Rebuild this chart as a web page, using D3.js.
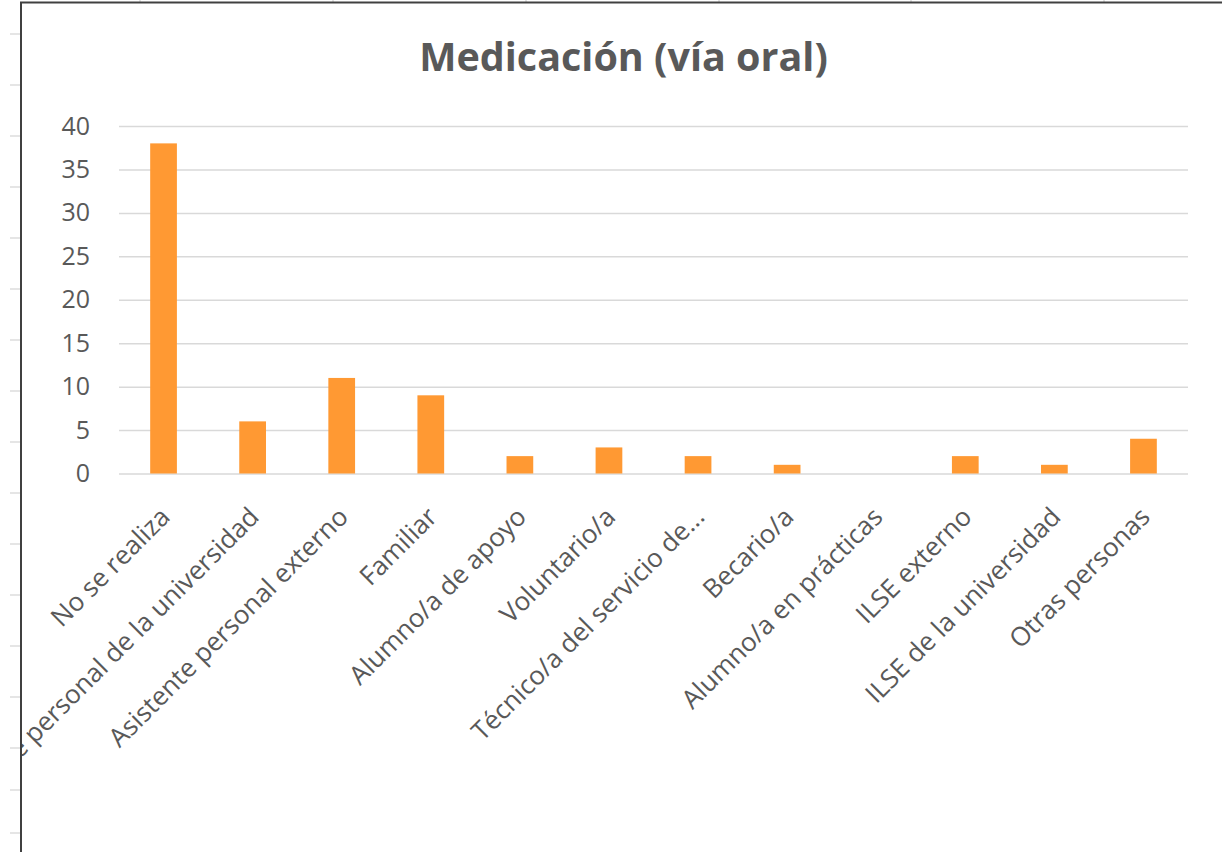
<!DOCTYPE html>
<html>
<head>
<meta charset="utf-8">
<script src="https://cdn.jsdelivr.net/npm/d3@7"></script>
<style>
  html, body { margin: 0; padding: 0; background: #ffffff; }
  svg { display: block; }
</style>
</head>
<body>
<div id="chart"></div>
<script>
// Données du graphique
const categories = ["No se realiza", "Asistente personal de la universidad", "Asistente personal externo",
    "Familiar", "Alumno/a de apoyo", "Voluntario/a", "Técnico/a del servicio de...", "Becario/a",
    "Alumno/a en prácticas", "ILSE externo", "ILSE de la universidad", "Otras personas"];
const valores = [38, 6, 11, 9, 2, 3, 2, 1, 0, 2, 1, 4];
const yTicks = [0, 5, 10, 15, 20, 25, 30, 35, 40];
const titulo = "Medicación (vía oral)";

// hauteurs des lignes / largeurs des colonnes de la feuille (décor)
const rowHeights = [34, 51, 51, 51, 51, 51, 51, 51, 51, 51, 51, 51, 51, 51, 51, 42, 43];
const colWidths = [140, 193, 193, 193, 192, 193, 193];

//---------------------------------------------------------------------------------------

const width = 1222;
const height = 852;
const frameX = 21;
const frameY = 2.5;
const font = "'Open Sans', sans-serif";
const textColor = "#595959";

const svg = d3.select("#chart")
    .append("svg")
    .attr("width", width)
    .attr("height", height);

// feuille Excel en arrière-plan : petits repères de lignes et colonnes
const rowY = d3.cumsum(rowHeights);
svg.append("g").selectAll("line")
    .data(rowY)
    .join("line")
    .attr("x1", 10).attr("x2", frameX)
    .attr("y1", d => d).attr("y2", d => d)
    .attr("stroke", "#d4d4d4")
    .attr("stroke-width", 1.2);

const colX = d3.cumsum(colWidths);
svg.append("g").selectAll("line")
    .data(colX)
    .join("line")
    .attr("x1", d => d).attr("x2", d => d)
    .attr("y1", 0).attr("y2", frameY)
    .attr("stroke", "#c8c8c8")
    .attr("stroke-width", 1);

// zone du graphique (clip)
svg.append("defs").append("clipPath")
    .attr("id", "clipChart")
    .append("rect")
    .attr("x", frameX + 1).attr("y", frameY + 1)
    .attr("width", width).attr("height", height);

const chart = svg.append("g").attr("clip-path", "url(#clipChart)");

chart.append("rect")
    .attr("x", frameX).attr("y", frameY)
    .attr("width", width).attr("height", height)
    .attr("fill", "#ffffff");

//---------------------------------------------------------------------------------------

// Échelles
const plotLeft = 119;
const plotRight = 1188;
const plotTop = 126;
const plotBottom = 473.5;

const scaleX = d3.scaleBand()
    .domain(categories)
    .range([plotLeft, plotRight])
    .paddingInner(0.7)
    .paddingOuter(0.35);

const scaleY = d3.scaleLinear()
    .domain([0, 40])
    .range([plotBottom, plotTop]);

// Axe Y + grille
const yAxis = g => g
    .attr("transform", `translate(${plotLeft}, 0)`)
    .call(d3.axisLeft(scaleY)
        .tickValues(yTicks)
        .tickSize(-(plotRight - plotLeft))
        .tickPadding(29))
    .call(g => g.select(".domain").remove())
    .call(g => g.selectAll(".tick line")
        .attr("stroke", "#d9d9d9")
        .attr("stroke-width", 1.5))
    .call(g => g.selectAll(".tick text")
        .attr("fill", textColor)
        .attr("font-family", font)
        .attr("font-size", "25px"));

chart.append("g").call(yAxis);

// Barres
chart.append("g").selectAll("rect")
    .data(valores)
    .join("rect")
    .attr("x", (d, i) => scaleX(categories[i]))
    .attr("y", d => scaleY(d))
    .attr("width", scaleX.bandwidth())
    .attr("height", d => scaleY(0) - scaleY(d))
    .attr("fill", "#ff9933");

// Axe X (étiquettes inclinées)
const xAxis = g => g
    .attr("transform", `translate(0, ${plotBottom})`)
    .call(d3.axisBottom(scaleX).tickSize(0).tickPadding(0))
    .call(g => g.select(".domain").remove())
    .call(g => g.selectAll(".tick text")
        .attr("fill", textColor)
        .attr("font-family", font)
        .attr("font-size", "26px")
        .attr("text-anchor", "end")
        .attr("dy", null)
        .attr("y", 0)
        .attr("transform", "translate(8, 45) rotate(-45)"));

chart.append("g").call(xAxis);

// Titre
chart.append("text")
    .attr("x", 623.5)
    .attr("y", 71)
    .attr("text-anchor", "middle")
    .attr("font-family", font)
    .attr("font-weight", "bold")
    .attr("font-size", "39.5px")
    .attr("fill", textColor)
    .text(titulo);

// cadre du graphique
svg.append("path")
    .attr("d", `M${frameX},${height + 5} V${frameY} H${width + 5}`)
    .attr("fill", "none")
    .attr("stroke", "#404040")
    .attr("stroke-width", 2);
</script>
</body>
</html>
